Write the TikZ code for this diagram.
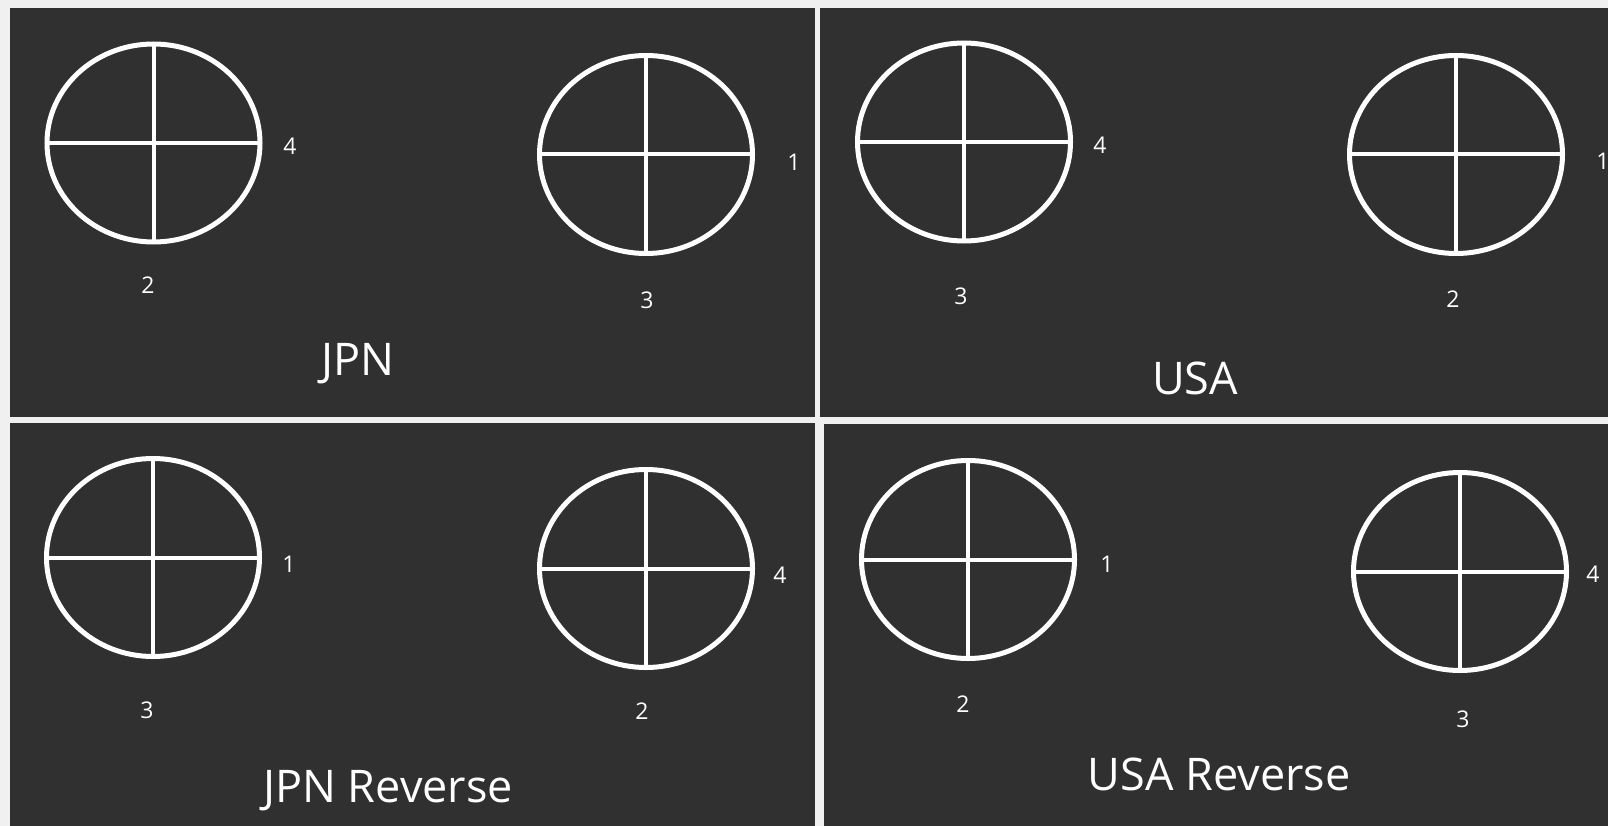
\documentclass[tikz,border=0pt]{standalone}
\usepackage{fontspec}
\setmainfont{Open Sans}
\usetikzlibrary{shapes.geometric}
\definecolor{panelgray}{HTML}{303030}
\definecolor{framegray}{HTML}{F0F0F0}

\begin{document}
\begin{tikzpicture}[x=1pt, y=-1pt,
    panel/.style={fill=panelgray},
    wheel/.style={draw=white, ellipse, line width=5pt, minimum width=213pt, minimum height=198pt, inner sep=0pt, outer sep=0pt},
    spoke/.style={draw=white, line width=4pt},
    num/.style={text=white, anchor=base, inner sep=0pt, font=\fontsize{23}{28}\selectfont},
    title/.style={text=white, anchor=base, inner sep=0pt, font=\fontsize{45}{54}\selectfont}
]
\fill[framegray] (0,0) rectangle (1608,826);
\useasboundingbox (0,0) rectangle (1608,826);

% the four panels
\fill[panel] (10,8) rectangle (815,417);
\fill[panel] (820,8) rectangle (1608,417);
\fill[panel] (10,423) rectangle (815,826);
\fill[panel] (824,424) rectangle (1608,826);

% wheels with their cross
\foreach \name/\x/\y in {wa/153.5/143, wb/646/154.5, wc/964/142, wd/1456/154.5,
                         we/153/557.5, wf/646/568.5, wg/968/559.5, wh/1460/571.5} {
  \node[wheel] (\name) at (\x,\y) {};
  \draw[spoke] (\name.north) -- (\name.south) (\name.west) -- (\name.east);
}

% JPN
\node[num] (na1) at (290,155) {4};
\node[num] (na2) at (148,294) {2};
\node[num] (nb1) at (794,171) {1};
\node[num] (nb2) at (647,308) {3};
\node[title] (jpn) at (358,375) {JPN};

% USA
\node[num] (nc1) at (1100,154) {4};
\node[num] (nc2) at (961,305) {3};
\node[num] (nd1) at (1603,170) {1};
\node[num] (nd2) at (1453,307) {2};
\node[title] (usa) at (1195,394) {USA};

% JPN Reverse
\node[num] (ne1) at (289,572) {1};
\node[num] (ne2) at (147,718) {3};
\node[num] (nf1) at (780,583) {4};
\node[num] (nf2) at (642,719) {2};
\node[title] (jpnrev) at (388,802) {JPN Reverse};

% USA Reverse
\node[num] (ng1) at (1107,572) {1};
\node[num] (ng2) at (963,712) {2};
\node[num] (nh1) at (1593,582) {4};
\node[num] (nh2) at (1463,727) {3};
\node[title] (usarev) at (1219,790) {USA Reverse};
\end{tikzpicture}
\end{document}
